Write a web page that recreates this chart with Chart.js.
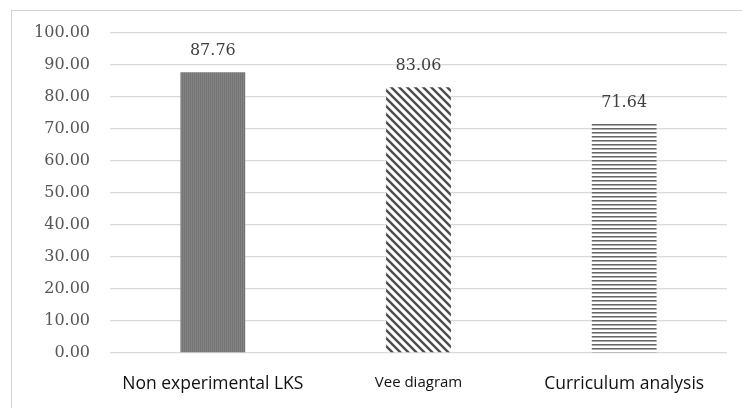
<!DOCTYPE html>
<html lang="en">
<head>
  <meta charset="UTF-8">
  <title>Index</title>
  <script src="https://cdn.jsdelivr.net/npm/chart.js@4.4.0/dist/chart.umd.min.js"></script>
  <style>
    body { margin: 0; background: #fff; overflow: hidden; }
    #wrap { position: relative; width: 742px; height: 408px; }
    #frame { position: absolute; left: 11px; top: 10px; width: 760px; height: 420px; border: 1px solid #d4d4d4; box-sizing: border-box; }
  </style>
</head>
<body>
<div id="wrap">
  <div id="frame"></div>
  <canvas id="myChart"></canvas>
</div>

<script>
  const categories = ["Non experimental LKS", "Vee diagram", "Curriculum analysis"];
  const scores = [87.76, 83.06, 71.64];
  const yTicks = [0, 10, 20, 30, 40, 50, 60, 70, 80, 90, 100];

  function makePattern(w, h, paint) {
    const c = document.createElement("canvas");
    c.width = w;
    c.height = h;
    const g = c.getContext("2d");
    g.fillStyle = "#fff";
    g.fillRect(0, 0, w, h);
    paint(g);
    return g.createPattern(c, "repeat");
  }

  // dense vertical texture, reads as a flat mid gray
  const verticalFill = makePattern(2, 2, g => {
    g.fillStyle = "#737373";
    g.fillRect(0, 0, 1, 2);
    g.fillStyle = "#848484";
    g.fillRect(1, 0, 1, 2);
  });

  // diagonal "\" stripes
  const diagonalFill = makePattern(8, 8, g => {
    g.strokeStyle = "#4d4d4d";
    g.lineWidth = 2.4;
    g.beginPath();
    g.moveTo(-2, -2); g.lineTo(10, 10);
    g.moveTo(-2, 6); g.lineTo(2, 10);
    g.moveTo(6, -2); g.lineTo(10, 2);
    g.stroke();
  });

  // horizontal stripes
  const horizontalFill = makePattern(4, 4, g => {
    g.fillStyle = "#666";
    g.fillRect(0, 0, 4, 1);
    g.fillStyle = "#aaa";
    g.fillRect(0, 1, 4, 1);
  });

  const valueLabels = {
    id: "valueLabels",
    afterDatasetsDraw(chart) {
      const ctx = chart.ctx;
      const meta = chart.getDatasetMeta(0);
      ctx.save();
      ctx.font = "16px 'DejaVu Serif'";
      ctx.fillStyle = "#3f3f3f";
      ctx.textAlign = "center";
      ctx.textBaseline = "middle";
      meta.data.forEach((bar, i) => {
        ctx.fillText(scores[i].toFixed(2), bar.x, bar.y - 21);
      });
      ctx.restore();
    }
  };

  const ctx = document.getElementById("myChart").getContext("2d");
  const chart = new Chart(ctx, {
    type: "bar",
    data: {
      labels: categories,
      datasets: [{
        data: scores,
        backgroundColor: [verticalFill, diagonalFill, horizontalFill],
        borderWidth: 0,
        categoryPercentage: 1,
        barPercentage: 0.315
      }]
    },
    options: {
      responsive: true,
      maintainAspectRatio: false,
      animation: false,
      events: [],
      layout: { padding: { top: 33, right: 15, left: 0, bottom: 0 } },
      plugins: {
        legend: { display: false },
        tooltip: { enabled: false }
      },
      scales: {
        x: {
          grid: { display: false },
          border: { display: false },
          ticks: {
            padding: 13,
            color: "#111",
            font: c => ({ family: "'Open Sans'", size: c.index === 1 ? 15 : 17.5 })
          },
          afterFit: scale => { scale.height = 55; }
        },
        y: {
          min: 0,
          max: 100,
          afterBuildTicks: scale => { scale.ticks = yTicks.map(v => ({ value: v })); },
          grid: { color: "#d9d9d9", lineWidth: 1.3, drawTicks: false },
          border: { display: false },
          ticks: {
            padding: 20,
            color: "#555",
            font: { family: "'DejaVu Serif'", size: 16 },
            callback: v => Number(v).toFixed(2)
          },
          afterFit: scale => { scale.width = 110; }
        }
      }
    },
    plugins: [valueLabels]
  });
</script>
</body>
</html>
